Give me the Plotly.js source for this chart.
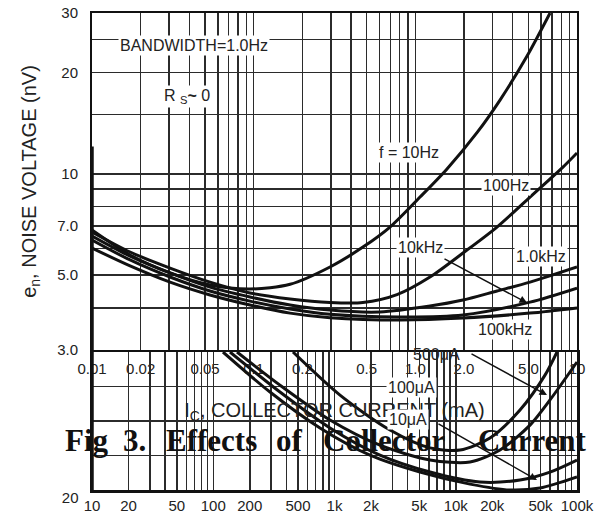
<!DOCTYPE html>
<html><head><meta charset="utf-8">
<script src="https://cdn.plot.ly/plotly-3.0.1.min.js"></script>
<style>html,body{margin:0;padding:0;background:#fff;}</style>
</head><body>
<div id="chart" style="width:597px;height:518px;"></div>
<script>
// ---------- Upper chart: noise voltage vs collector current ----------
const ic10Hz   = [0.01,0.0172,0.0304,0.0537,0.0949,0.168,0.2965,0.474,0.697,1.069,1.57,2.406,3.34,4.91,6.81];
const en10Hz   = [6.81,5.74,5.08,4.68,4.55,4.70,5.29,6.06,6.95,8.53,10.34,13.24,16.55,22.36,30];
const ic100Hz  = [0.01,0.0172,0.0304,0.0537,0.0949,0.168,0.2965,0.474,0.77,1.232,1.971,3.2,5.12,8.19,10];
const en100Hz  = [6.72,5.86,5.25,4.77,4.43,4.25,4.15,4.15,4.38,4.94,5.82,6.95,8.53,10.47,11.53];
const ic1kHz   = [0.01,0.0172,0.0304,0.0537,0.0949,0.168,0.2965,0.604,1.232,1.971,3.2,5.12,10];
const en1kHz   = [6.54,5.70,5.08,4.61,4.31,4.08,3.94,3.89,4.05,4.22,4.49,4.77,5.29];
const ic10kHz  = [0.01,0.0172,0.0304,0.0537,0.0949,0.168,0.2965,0.804,1.971,5.12,10];
const en10kHz  = [6.36,5.55,4.94,4.49,4.19,3.97,3.83,3.76,3.81,4.16,4.58];
const ic100kHz = [0.01,0.0172,0.0304,0.0537,0.0949,0.168,0.2965,0.804,1.971,5.12,10];
const en100kHz = [6.02,5.33,4.77,4.37,4.08,3.86,3.74,3.68,3.73,3.86,4.00];

const xGridVals = [0.01,0.02,0.03,0.04,0.05,0.06,0.07,0.08,0.09,0.1,0.2,0.3,0.4,0.5,0.6,0.7,0.8,0.9,1,2,3,4,5,6,7,8,9,10];
const xGridText = ['0.01','0.02','','','0.05','','','','','0.1','0.2','','','0.5','','','','','1.0','2.0','','','5.0','','','','','10'];
const yGridVals = [3,4,5,6,7,8,9,10,15,20,25,30];
const yGridText = ['3.0','','5.0','','7.0','','','10','','20','','30'];

const upLabels = ['BANDWIDTH=1.0Hz','R <sub>S</sub><b>~</b> 0','f = 10Hz','100Hz','10kHz','1.0kHz','100kHz'];
const upLabelX = [0.0425,0.0387,0.914,3.64,1.069,5.99,3.58];
const upLabelY = [24.1,16.9,11.53,9.26,6.06,5.70,3.44];
const upArrowHead = [[4.905,4.14]];
const upArrowTail = [[1.483,5.62]];

// ---------- Lower (overlapping) chart: vs frequency ----------
const fA = [454.6,1110,2869,6133,10840,19160,33880,54460,68390];
const vA = [24.0,22.75,21.74,21.22,21.16,21.51,22.32,23.33,24.0];
const fB = [157,355,918,2372,6133,13110,23170,40960,59870,100000];
const vB = [24.0,23.04,22.03,21.30,20.87,20.81,21.16,21.88,22.61,23.71];
const fC = [137.4,355,918,2372,6133,15850,33880,59870,100000];
const vC = [24.0,22.84,21.80,21.01,20.52,20.23,20.29,20.52,20.87];
const fD = [120.3,293.8,759,1962,5070,13110,28000,49520,100000];
const vD = [24.0,22.84,21.80,21.01,20.52,20.17,20.0,20.06,20.38];

const fGridVals = [];
[10,100,1000,10000].forEach(d => { for (let k=1;k<10;k++) fGridVals.push(d*k); });
fGridVals.push(100000);
const fLabelMap = {10:'10',20:'20',50:'50',100:'100',200:'200',500:'500',1000:'1k',2000:'2k',5000:'5k',10000:'10k',20000:'20k',50000:'50k',100000:'100k'};
const fGridText = fGridVals.map(v => fLabelMap[v] || '');

const loLabels = ['500μA','100μA','10μA'];
const loLabelF = [7000,4276,4036];
const loLabelV = [23.94,22.96,22.03];
const loArrowHead = [[56570,22.75],[46770,20.29]];
const loArrowTail = [[13110,23.97],[7000,21.94]];

const figWords = ['Fig','3.','Effects','of','Collector','Current'];
const figWordX = [-0.0103,0.0866,0.2474,0.408,0.602,0.909];

const FONT = 'Liberation Sans, Arial, sans-serif';
const lineStyle = {color:'#111', width:3, shape:'spline', smoothing:0.8};

const traces = [
  {x:ic10Hz, y:en10Hz}, {x:ic100Hz, y:en100Hz}, {x:ic1kHz, y:en1kHz},
  {x:ic10kHz, y:en10kHz}, {x:ic100kHz, y:en100kHz}
].map(t => Object.assign(t, {type:'scatter', mode:'lines', line:lineStyle, xaxis:'x', yaxis:'y', hoverinfo:'skip'}));

[[fA,vA],[fB,vB],[fC,vC],[fD,vD]].forEach(([f,v]) => traces.push({
  type:'scatter', mode:'lines', x:f, y:v, line:lineStyle, xaxis:'x2', yaxis:'y2', hoverinfo:'skip'
}));

const annotations = [];
upLabels.forEach((t,i) => annotations.push({
  xref:'x', yref:'y', x:Math.log10(upLabelX[i]), y:Math.log10(upLabelY[i]), text:t, showarrow:false,
  xanchor:'center', yanchor:'middle',
  bgcolor:'#fff', borderpad:1, font:{family:FONT, size:16, color:'#222'}
}));
upArrowHead.forEach((h,i) => annotations.push({
  xref:'x', yref:'y', axref:'x', ayref:'y',
  x:Math.log10(h[0]), y:Math.log10(h[1]), ax:Math.log10(upArrowTail[i][0]), ay:Math.log10(upArrowTail[i][1]),
  text:'', showarrow:true, arrowhead:2, arrowsize:1, arrowwidth:1.5, arrowcolor:'#111'
}));
loLabels.forEach((t,i) => annotations.push({
  xref:'x2', yref:'y2', x:Math.log10(loLabelF[i]), y:loLabelV[i], text:t, showarrow:false,
  xanchor:'center', yanchor:'middle',
  bgcolor: i===0 ? 'rgba(0,0,0,0)' : '#fff', borderpad:1, font:{family:FONT, size:16, color:'#222'}
}));
loArrowHead.forEach((h,i) => annotations.push({
  xref:'x2', yref:'y2', axref:'x2', ayref:'y2',
  x:Math.log10(h[0]), y:h[1], ax:Math.log10(loArrowTail[i][0]), ay:loArrowTail[i][1],
  text:'', showarrow:true, arrowhead:2, arrowsize:1, arrowwidth:1.5, arrowcolor:'#111'
}));
figWords.forEach((w,i) => annotations.push({
  xref:'paper', yref:'paper', x:figWordX[i], y:0.1048, text:'<b>'+w+'</b>', showarrow:false,
  xanchor:'center', yanchor:'middle',
  font:{family:'Liberation Serif, Times New Roman, serif', size:31, color:'#111'}
}));

const gridCol = '#2b2b2b';
const layout = {
  width:597, height:518,
  margin:{l:92, r:20, t:13, b:28, pad:0},
  paper_bgcolor:'#fff', plot_bgcolor:'#fff',
  showlegend:false,
  font:{family:FONT, color:'#222'},
  xaxis:{
    type:'log', range:[-2,1], domain:[0,1], anchor:'y',
    tickmode:'array', tickvals:xGridVals, ticktext:xGridText,
    showgrid:true, gridcolor:gridCol, gridwidth:1.5, ticks:'',
    showline:true, mirror:true, linecolor:'#111', linewidth:2,
    tickfont:{family:FONT, size:15, color:'#222'}, ticklabelstandoff:4,
    zeroline:false,
    title:{text:'I<sub>C</sub>, COLLECTOR CURRENT (mA)', font:{family:FONT, size:20, color:'#222'}, standoff:27}
  },
  yaxis:{
    type:'log', range:[Math.log10(3), Math.log10(30)], domain:[0.2935,1], anchor:'x',
    tickmode:'array', tickvals:yGridVals, ticktext:yGridText,
    showgrid:true, gridcolor:gridCol, gridwidth:1.5, ticks:'',
    showline:true, mirror:true, linecolor:'#111', linewidth:2,
    tickfont:{family:FONT, size:15, color:'#222'}, ticklabelstandoff:9,
    zeroline:false,
    title:{text:'e<sub>n</sub>, NOISE VOLTAGE (nV)', font:{family:FONT, size:20, color:'#222'}, standoff:15}
  },
  xaxis2:{
    type:'log', range:[1,5], domain:[0,1], anchor:'y2',
    tickmode:'array', tickvals:fGridVals, ticktext:fGridText,
    showgrid:true, gridcolor:gridCol, gridwidth:1.5, ticks:'',
    showline:true, mirror:true, linecolor:'#111', linewidth:2.5,
    tickfont:{family:FONT, size:15, color:'#222'}, ticklabelstandoff:0,
    zeroline:false
  },
  yaxis2:{
    range:[20,24], domain:[0,0.2893], anchor:'x2',
    tickmode:'array', tickvals:[20,21,22,23,24], ticktext:['20','','','',''],
    showgrid:true, gridcolor:gridCol, gridwidth:1.5, ticks:'',
    showline:true, mirror:true, linecolor:'#111', linewidth:2.5,
    tickfont:{family:FONT, size:15, color:'#222'}, ticklabelstandoff:8, ticklabelshift:8,
    zeroline:false
  },
  shapes:[
    {type:'line', xref:'paper', yref:'paper', x0:0, x1:0, y0:0, y1:0.72, line:{color:'#111', width:3.5}}
  ],
  annotations:annotations
};

Plotly.newPlot('chart', traces, layout, {displayModeBar:false, staticPlot:true});
</script>
</body></html>
